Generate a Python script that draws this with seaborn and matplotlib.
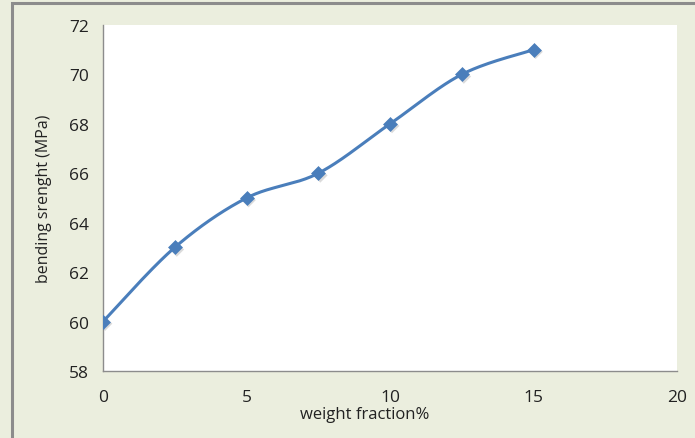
import numpy as np
import pandas as pd
import matplotlib
matplotlib.use("Agg")
import matplotlib.pyplot as plt
import seaborn as sns
from matplotlib.patches import Rectangle

# Data
weight_fraction = [0, 2.5, 5, 7.5, 10, 12.5, 15]
bending_strength = [60, 63, 65, 66, 68, 70, 71]
x_ticks = [0, 5, 10, 15, 20]
y_ticks = [58, 60, 62, 64, 66, 68, 70, 72]

BG = "#EBEEDE"
LINE = "#4A7EBB"
TEXT = "#222222"

sns.set_theme(style="white")
plt.rcParams["font.family"] = ["Open Sans", "DejaVu Sans"]


def smooth_curve(xs, ys, n=40):
    """Catmull-Rom style bezier smoothing between consecutive points."""
    p = np.column_stack([xs, ys]).astype(float)
    ext = np.vstack([p[0], p, p[-1]])
    out = []
    t = np.linspace(0, 1, n)[:, None]
    for i in range(1, len(ext) - 2):
        p0, p1, p2, p3 = ext[i - 1], ext[i], ext[i + 1], ext[i + 2]
        c1 = p1 + (p2 - p0) / 6.0
        c2 = p2 - (p3 - p1) / 6.0
        seg = ((1 - t) ** 3) * p1 + 3 * ((1 - t) ** 2) * t * c1 \
            + 3 * (1 - t) * t ** 2 * c2 + t ** 3 * p2
        out.append(seg if i == 1 else seg[1:])
    seg = np.vstack(out)
    return seg[:, 0], seg[:, 1]


sx, sy = smooth_curve(weight_fraction, bending_strength)
curve = pd.DataFrame({"x": sx, "y": sy})
points = pd.DataFrame({"x": weight_fraction, "y": bending_strength})

fig = plt.figure(figsize=(6.95, 4.39), dpi=100)
fig.patch.set_facecolor(BG)
# chart frame
fig.patches.append(Rectangle((12 / 695, -0.05), 1.1, (439 - 4) / 439 + 0.05,
                             transform=fig.transFigure, fill=False,
                             edgecolor="#8C8C8C", linewidth=2.2, zorder=0))

ax = fig.add_axes([103 / 695, 1 - 372 / 439, (677 - 103) / 695, (372 - 26) / 439])
ax.set_facecolor("white")

sns.lineplot(data=curve, x="x", y="y", ax=ax, color=LINE, linewidth=2.2,
             sort=False, estimator=None, zorder=3)
# soft marker shadow
sns.scatterplot(data=points, x="x", y="y", ax=ax, marker="D", s=55,
                color="#9A9A9A", alpha=0.35, edgecolor="none", zorder=2,
                transform=ax.transData + matplotlib.transforms.ScaledTranslation(
                    1.5 / 72, -1.5 / 72, fig.dpi_scale_trans))
sns.scatterplot(data=points, x="x", y="y", ax=ax, marker="D", s=50,
                color=LINE, edgecolor=LINE, linewidth=0.5, zorder=4)

ax.set_xlim(0, 20)
ax.set_ylim(58, 72)
ax.set_xticks(x_ticks)
ax.set_yticks(y_ticks)
ax.set_xticklabels([str(v) for v in x_ticks], fontsize=12.5, color=TEXT)
ax.set_yticklabels([str(v) for v in y_ticks], fontsize=12.5, color=TEXT)
ax.tick_params(axis="x", length=0, pad=13)
ax.tick_params(axis="y", length=0, pad=10)
ax.grid(False)

for side in ("top", "right"):
    ax.spines[side].set_visible(False)
for side in ("left", "bottom"):
    ax.spines[side].set_color("#8C8C8C")
    ax.spines[side].set_linewidth(1.0)

ax.set_xlabel("weight fraction%", fontsize=12, color=TEXT)
ax.xaxis.set_label_coords((365 - 103) / 574, -(407 - 372) / 346)
ax.set_ylabel("bending srenght (MPa)", fontsize=11.5, color=TEXT, labelpad=12)

fig.savefig("out.png", dpi=100, facecolor=BG)
